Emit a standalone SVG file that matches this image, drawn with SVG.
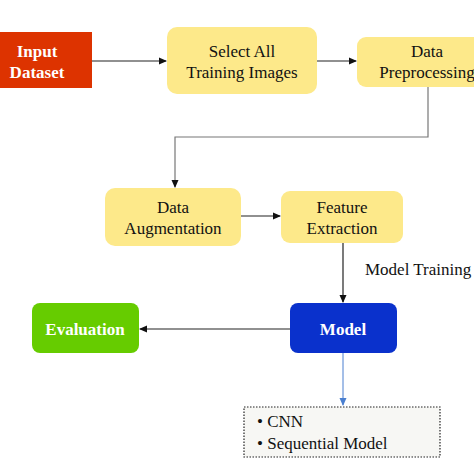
<svg xmlns="http://www.w3.org/2000/svg" width="474" height="474" viewBox="0 0 474 474">
<defs>
<marker id="ah" markerWidth="8" markerHeight="8" refX="7" refY="4" orient="auto" markerUnits="userSpaceOnUse"><path d="M0,0.5 L8,4 L0,7.5 Z" fill="#111"/></marker>
<marker id="ahb" markerWidth="8" markerHeight="8" refX="7" refY="4" orient="auto" markerUnits="userSpaceOnUse"><path d="M0,0.5 L8,4 L0,7.5 Z" fill="#4a7fd0"/></marker>
</defs>
<style>
text{font-family:'Liberation Serif',serif;font-size:17px;text-anchor:middle;fill:#111}
.w{fill:#fff;font-weight:bold}
.y{fill:#fde98a}
.c{stroke:#222;stroke-width:1.2;fill:none}
</style>
<rect width="474" height="474" fill="#fff"/>
<g id="connectors">
<path class="c" d="M92,61 H166" marker-end="url(#ah)"/>
<path class="c" d="M317,61 H356" marker-end="url(#ah)"/>
<path d="M428,87 V137 H175 V187" fill="none" stroke="#777" stroke-width="1.2" marker-end="url(#ah)"/>
<path class="c" d="M241,216 H280" marker-end="url(#ah)"/>
<path class="c" d="M343,243 V302" marker-end="url(#ah)"/>
<path class="c" d="M290,329 H140" marker-end="url(#ah)"/>
<path d="M343,353 V405" fill="none" stroke="#4a7fd0" stroke-width="1" marker-end="url(#ahb)"/>
<text x="365" y="275" style="text-anchor:start">Model Training</text>
</g>
<g id="input">
<rect x="0" y="32" width="92" height="56" fill="#dd3300"/>
<text class="w" x="37" y="57">Input</text>
<text class="w" x="37" y="78">Dataset</text>
</g>
<g id="select">
<rect class="y" x="167" y="27" width="150" height="67" rx="10"/>
<text x="242" y="57">Select All</text>
<text x="242" y="78">Training Images</text>
</g>
<g id="preprocessing">
<rect class="y" x="357" y="37" width="140" height="50" rx="9"/>
<text x="427" y="57">Data</text>
<text x="427" y="78">Preprocessing</text>
</g>
<g id="augmentation">
<rect class="y" x="105" y="188" width="136" height="58" rx="10"/>
<text x="173" y="213">Data</text>
<text x="173" y="234">Augmentation</text>
</g>
<g id="feature">
<rect class="y" x="281" y="191" width="122" height="52" rx="9"/>
<text x="342" y="213">Feature</text>
<text x="342" y="234">Extraction</text>
</g>
<g id="model">
<rect x="290" y="303" width="107" height="50" rx="8" fill="#0a31cc"/>
<text class="w" x="343" y="335">Model</text>
</g>
<g id="evaluation">
<rect x="32" y="303" width="107" height="50" rx="8" fill="#66cc00"/>
<text class="w" x="85" y="335">Evaluation</text>
</g>
<g id="models-list">
<rect x="244" y="407" width="196" height="50" fill="#f7f7f4" stroke="#222" stroke-width="1.2" stroke-dasharray="1.5,1.5"/>
<text x="257" y="427" style="text-anchor:start">•  CNN</text>
<text x="257" y="449" style="text-anchor:start">•  Sequential Model</text>
</g>
</svg>
